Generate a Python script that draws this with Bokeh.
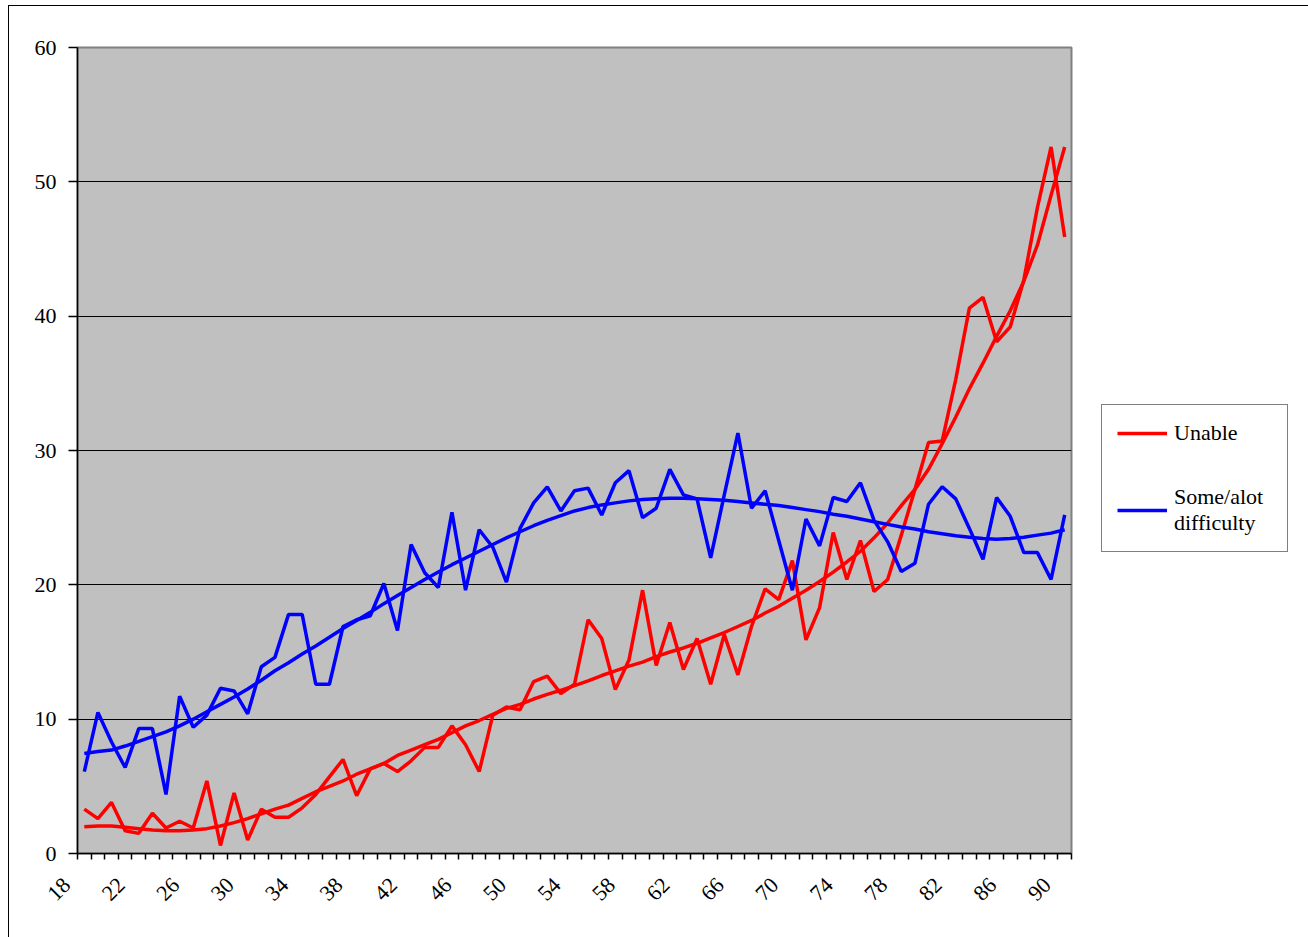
import math
from bokeh.plotting import figure
from bokeh.models import Range1d, FixedTicker, Legend, LegendItem
from bokeh.embed import file_html
from bokeh.resources import INLINE

# Age categories on the horizontal axis
ages = list(range(18, 91))

# Percentage unable, per single year of age
unable = [3.3, 2.6, 3.8, 1.7, 1.5, 3.0, 1.9, 2.4, 1.9, 5.4,
          0.6, 4.5, 1.0, 3.3, 2.7, 2.7, 3.4, 4.4, 5.7, 7.0,
          4.3, 6.3, 6.7, 6.1, 6.9, 7.9, 7.9, 9.5, 8.1, 6.1,
          10.3, 10.9, 10.7, 12.8, 13.2, 11.9, 12.6, 17.4, 16.0, 12.2,
          14.4, 19.6, 14.0, 17.2, 13.7, 16.0, 12.6, 16.3, 13.3, 16.9,
          19.7, 18.9, 21.8, 15.9, 18.3, 23.9, 20.4, 23.3, 19.5, 20.4,
          23.7, 27.1, 30.6, 30.7, 35.3, 40.6, 41.4, 38.1, 39.2, 42.7,
          48.1, 52.6, 45.9]

# Fitted trend for "unable"
unable_trend = [2.0, 2.05, 2.05, 1.95, 1.85, 1.75, 1.7, 1.7, 1.75, 1.85,
                2.05, 2.3, 2.6, 2.95, 3.3, 3.6, 4.1, 4.6, 5.0, 5.4,
                5.9, 6.3, 6.7, 7.3, 7.7, 8.1, 8.5, 9.0, 9.5, 9.9,
                10.35, 10.8, 11.1, 11.5, 11.85, 12.15, 12.5, 12.85, 13.25, 13.6,
                13.95, 14.25, 14.65, 15.0, 15.3, 15.65, 16.05, 16.45, 16.9, 17.35,
                17.9, 18.4, 19.0, 19.6, 20.25, 20.95, 21.7, 22.5, 23.5, 24.6,
                25.9, 27.1, 28.6, 30.5, 32.5, 34.6, 36.5, 38.5, 40.4, 42.6,
                45.3, 49.0, 52.6]

# Percentage with some / a lot of difficulty
difficulty = [6.1, 10.5, 8.3, 6.4, 9.3, 9.3, 4.4, 11.7, 9.4, 10.3,
              12.3, 12.1, 10.4, 13.9, 14.6, 17.8, 17.8, 12.6, 12.6, 16.9,
              17.4, 17.7, 20.1, 16.6, 23.0, 20.9, 19.8, 25.4, 19.6, 24.1,
              22.8, 20.2, 24.2, 26.1, 27.3, 25.5, 27.0, 27.2, 25.2, 27.6,
              28.5, 25.0, 25.7, 28.6, 26.7, 26.4, 22.0, 26.7, 31.3, 25.7,
              27.0, 23.3, 19.6, 24.9, 22.9, 26.5, 26.2, 27.6, 24.8, 23.2,
              21.0, 21.6, 26.0, 27.3, 26.4, 24.2, 21.9, 26.5, 25.1, 22.4,
              22.4, 20.4, 25.2]

# Fitted trend for "some / a lot of difficulty"
difficulty_trend = [7.45, 7.6, 7.7, 8.0, 8.35, 8.7, 9.05, 9.5, 10.0, 10.55,
                    11.1, 11.65, 12.25, 12.9, 13.6, 14.2, 14.85, 15.45, 16.1, 16.75,
                    17.35, 17.95, 18.6, 19.2, 19.8, 20.4, 20.95, 21.5, 22.0, 22.5,
                    23.0, 23.5, 23.95, 24.4, 24.8, 25.15, 25.5, 25.75, 25.95, 26.1,
                    26.25, 26.35, 26.4, 26.45, 26.45, 26.4, 26.35, 26.3, 26.2, 26.1,
                    26.0, 25.9, 25.75, 25.6, 25.45, 25.25, 25.1, 24.9, 24.7, 24.5,
                    24.3, 24.15, 23.95, 23.8, 23.65, 23.55, 23.45, 23.4, 23.45, 23.55,
                    23.7, 23.85, 24.1]

y_ticks = [0, 10, 20, 30, 40, 50, 60]
label_every = 4

FONT = "'Liberation Serif', 'Times New Roman', serif"
n = len(ages)
xs = list(range(n))

p = figure(frame_width=994, frame_height=806,
           x_range=Range1d(-0.5, n - 0.5), y_range=Range1d(0, 60),
           output_backend="svg", toolbar_location=None,
           min_border_left=68, min_border_top=41, min_border_right=229,
           min_border_bottom=85,
           background_fill_color="#C0C0C0", border_fill_color="white",
           outline_line_color="#808080", outline_line_width=2,
           styles={"margin-left": "8px", "margin-top": "5px",
                   "border": "1.5px solid black"})

# horizontal gridlines only
p.xgrid.visible = False
p.ygrid.ticker = FixedTicker(ticks=y_ticks)
p.ygrid.grid_line_color = "black"
p.ygrid.grid_line_width = 1

# y axis
p.yaxis.ticker = FixedTicker(ticks=y_ticks)
p.yaxis.axis_line_color = "black"
p.yaxis.axis_line_width = 1.5
p.yaxis.major_tick_out = 9
p.yaxis.major_tick_in = 0
p.yaxis.major_tick_line_width = 1.5
p.yaxis.minor_tick_line_color = None
p.yaxis.major_label_standoff = 12
p.yaxis.major_label_text_font = FONT
p.yaxis.major_label_text_font_size = "22px"
p.yaxis.major_label_text_color = "black"

# x axis: tick marks between categories, a label on every fourth age.
# The rotated labels hang down and to the left of their category; trailing
# no-break spaces push the visible digits further along the slant.
label_shift = 0.45
label_pad = "\u00a0" * 3
label_idx = xs[::label_every]
label_pos = [i - label_shift for i in label_idx]
p.xaxis.ticker = FixedTicker(ticks=label_pos,
                             minor_ticks=[i - 0.5 for i in range(n + 1)])
p.xaxis.major_label_overrides = {pos: str(ages[i]) + label_pad
                                 for pos, i in zip(label_pos, label_idx)}
p.xaxis.major_tick_out = 0
p.xaxis.major_tick_in = 0
p.xaxis.minor_tick_out = 6
p.xaxis.minor_tick_in = 0
p.xaxis.minor_tick_line_color = "black"
p.xaxis.minor_tick_line_width = 1.5
p.xaxis.axis_line_color = "black"
p.xaxis.axis_line_width = 1.5
p.xaxis.major_label_orientation = math.pi / 4
p.xaxis.major_label_standoff = 10
p.xaxis.major_label_text_font = FONT
p.xaxis.major_label_text_font_size = "22px"
p.xaxis.major_label_text_color = "black"

RED = "#FF0000"
BLUE = "#0000FF"
LW = 3.5
r_unable = p.line(xs, unable, line_color=RED, line_width=LW)
p.line(xs, unable_trend, line_color=RED, line_width=LW)
r_diff = p.line(xs, difficulty, line_color=BLUE, line_width=LW)
p.line(xs, difficulty_trend, line_color=BLUE, line_width=LW)

legend = Legend(items=[LegendItem(label="Unable", renderers=[r_unable]),
                       LegendItem(label="Some/alot\ndifficulty", renderers=[r_diff])],
                location=(30, 301), orientation="vertical",
                background_fill_color="white", background_fill_alpha=1.0,
                border_line_color="black", border_line_width=1.5,
                label_text_font=FONT, label_text_font_size="22px",
                label_text_color="black",
                glyph_width=50, glyph_height=20, label_standoff=7,
                label_width=98, padding=15, spacing=38, margin=0)
p.add_layout(legend, "right")

open("out.html", "w").write(file_html(p, INLINE))
